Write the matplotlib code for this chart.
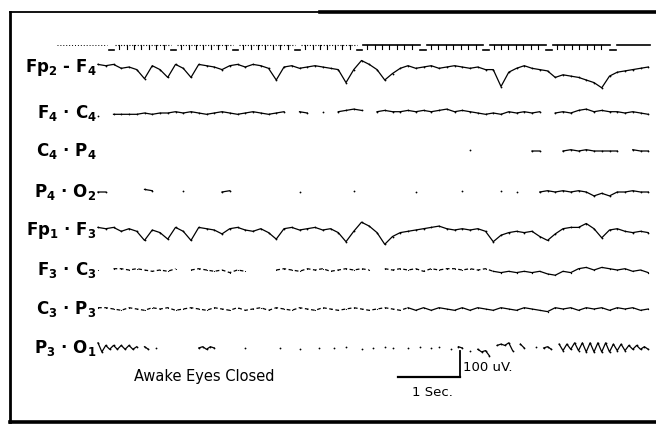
import numpy as np
import matplotlib.pyplot as plt

plt.rcParams['mathtext.default'] = 'bf'

nan = np.nan

# montage labels, top to bottom
labels = ['Fp$_2$ - F$_4$', 'F$_4$ · C$_4$', 'C$_4$ · P$_4$', 'P$_4$ · O$_2$',
          'Fp$_1$ · F$_3$', 'F$_3$ · C$_3$', 'C$_3$ · P$_3$', 'P$_3$ · O$_1$']

# traces in uV, sampled every 0.125 s (P3-O1 every 0.0625 s); nan = no ink on the scan
fp2_f4 = [10, 5, 10, -5, 0, -10, -45, 5, -10, -40,
          10, -5, -40, 10, 5, 0, -10, 5, 10, 0,
          10, 5, -5, -50, 0, 5, -5, 0, 5, 0,
          -5, -10, -60, -10, 25, 10, -10, -50, -25, -5,
          5, -5, 0, 5, -5, 0, 5, 0, -5, 0,
          -10, -10, -75, -20, -5, 5, -5, -10, -15, -40,
          -30, -35, -40, -50, -60, -80, -35, -20, -15, -10,
          -5, 0]
f4_c4 = [-10, nan, -5, -5, -5, -5, 0, -5, 0, 0,
         5, 0, 5, 0, -5, 0, 5, 0, -5, 0,
         5, 0, -5, 0, 5, nan, 5, 0, nan, 5,
         nan, 5, 10, 15, 10, nan, 5, 10, 5, 5,
         10, 5, 10, 5, 10, 15, 5, 10, 5, 0,
         -5, 0, -5, 5, 0, 5, 0, 5, nan, 0,
         5, 0, 10, 15, 5, 10, 5, 5, 0, 5,
         0, -5]
c4_p4 = ([nan] * 48 + [5] + [nan] * 7 + [0, 0, nan, nan]
         + [0, 5, 0, 5, 0, 0, 0, 0, nan, 5, 0, 0])
p4_o2 = ([0, 0] + [nan] * 4 + [10, 5] + [nan] * 3 + [5] + [nan] * 4 + [0, 5]
         + [nan] * 8 + [0] + [nan] * 6 + [5] + [nan] * 7 + [0] + [nan] * 5
         + [5] + [nan] * 4 + [5, nan, 0, nan, nan]
         + [0, 5, 0, 5, 0, 5, 0, -15, -5, -15, 0, 0, 5, 0, 0])
fp1_f3 = [10, 5, 10, -5, 5, -5, -40, 0, -10, -35,
          10, -5, -40, 10, 5, 0, -15, 5, 10, 0,
          -5, 5, -10, -35, 5, 10, 0, 5, 10, 0,
          5, -10, -45, -5, 30, 15, -10, -55, -25, -10,
          -5, 0, 5, 10, 15, 5, 0, 5, 0, 5,
          -5, -45, -20, -10, -5, -10, -5, -25, -40, -15,
          5, 10, 10, 25, 5, -30, 0, 5, -5, -10,
          -5, -10]
f3_c3 = [0, nan, 5, 5, 0, 5, 0, -5, 0, -5,
         5, nan, 0, 5, 0, -5, 0, -10, 0, -5,
         nan, nan, nan, 0, 5, 0, -5, 5, 0, 5,
         -5, 0, 5, 0, 5, 0, nan, 5, 0, 5,
         0, 5, -5, 5, 0, 5, 5, 0, 5, 0,
         5, -5, -10, -5, -10, -5, -10, -5, -15, -20,
         -5, -10, 5, 10, 0, 10, 5, 0, 5, -5,
         0, -10]
c3_p3 = [5, 5, 0, -5, 5, 0, -5, 5, 0, 5,
         -5, 0, 5, 0, -5, 5, 0, -5, 5, -5,
         0, 5, -5, 5, 0, -5, 5, 0, -5, 5,
         0, -5, 0, 5, 0, -5, 0, 5, 0, -5,
         5, -5, 5, -5, 5, 0, -5, 5, -5, 5,
         0, -5, 5, 0, -5, 5, 0, -5, -10, 5,
         0, 5, -5, 5, 0, 5, -5, 5, 0, 5,
         -5, 0]
p3_o1 = [20, -15, 10, -5, 10, -5, 10, -5, 10, -5,
         5, nan, 5, -5, nan, 0, nan, nan, nan, nan,
         nan, nan, nan, nan, nan, nan, 0, 5, -5, 5,
         0, nan, nan, nan, nan, nan, nan, nan, 0, nan,
         nan, nan, nan, nan, nan, nan, nan, 0, nan, nan,
         nan, nan, -5, nan, nan, nan, nan, 0, nan, nan,
         nan, 0, nan, nan, 5, nan, nan, nan, -5, nan,
         nan, 0, nan, nan, 5, nan, 0, nan, nan, nan,
         0, nan, nan, 5, nan, nan, 0, nan, 5, nan,
         nan, -5, nan, 5, 0, nan, -10, nan, -5, -15,
         -10, -30, nan, 10, 15, 10, 20, -10, nan, 15,
         0, nan, nan, 5, nan, 0, 5, -5, nan, 15,
         -10, 15, -5, 20, -10, 20, -15, 20, -15, 20,
         -15, 20, -15, 15, -10, 15, -10, 10, -5, 10,
         -5, 5, -5]

traces = [fp2_f4, f4_c4, c4_p4, p4_o2, fp1_f3, f3_c3, c3_p3, p3_o1]
steps = [0.125] * 7 + [0.0625]

# one-second marks of the timing line (s)
second_marks = [0.2, 1.2, 2.2, 3.2, 4.2, 5.23, 6.24, 7.26, 8.29]
tick_frac = [0.14, 0.26, 0.38, 0.5, 0.62, 0.74, 0.86]
scale_sec = 1
scale_uv = 100

# ---- layout (pixels of the 656x424 page) ----
W, H = 656, 424
PX_PER_SEC = 62
PX_PER_UV = 0.26
T0_PX = 98
rows_px = [67, 113, 151, 192, 230, 270, 309, 348]
dashed_until = [0, 0, 0, 0, 0, 51, 40, 0]

fig = plt.figure(figsize=(W / 100, H / 100), dpi=100)
ax = fig.add_axes([0, 0, 1, 1])
ax.set_xlim(-T0_PX / PX_PER_SEC, (W - T0_PX) / PX_PER_SEC)
ax.set_ylim(-H / PX_PER_UV, 0)
ax.axis('off')


def row(y_px):
    return -y_px / PX_PER_UV


for i, (vals, dt) in enumerate(zip(traces, steps)):
    v = np.array(vals, dtype=float)
    t = np.arange(len(v)) * dt
    y = row(rows_px[i]) + v
    k = dashed_until[i]
    if k:
        ax.plot(t[:k + 1], y[:k + 1], color='black', lw=0.9,
                ls=(0, (3, 2)), marker='o', ms=0.8, mew=0)
        ax.plot(t[k:], y[k:], color='black', lw=0.9, marker='o', ms=1.0, mew=0)
    else:
        ax.plot(t, y, color='black', lw=0.9, marker='o', ms=1.3, mew=0)
    ax.text(-1.5 / PX_PER_SEC, row(rows_px[i] + 5), labels[i], ha='right',
            va='baseline', fontsize=12, fontweight='bold')

# timing line
top, low = row(45), row(50)
for a, b in zip(second_marks[:-1], second_marks[1:]):
    style = dict(color='black', lw=1.2 if a > 4 else 0.8,
                 ls='-' if a > 4 else (0, (1, 1.5)))
    ax.plot([a + 0.08, b - 0.03], [top, top], **style)
    ax.plot([a - 0.03, a + 0.06], [low, low], color='black', lw=1.2)
    for f in tick_frac:
        ax.plot([a + f, a + f], [top, row(49)], color='black', lw=0.8)
ax.plot([second_marks[-1] - 0.03, second_marks[-1] + 0.06], [low, low], color='black', lw=1.2)
ax.plot([second_marks[-1] + 0.08, 8.9], [top, top], color='black', lw=1.2)
ax.plot([-0.66, second_marks[0] - 0.05], [top, top], color='black', lw=0.7, ls=(0, (1, 2)))

# calibration bar
x0 = (398 - T0_PX) / PX_PER_SEC
yb = row(377)
ax.plot([x0, x0 + scale_sec], [yb, yb], color='black', lw=1.6)
ax.plot([x0 + scale_sec, x0 + scale_sec], [yb, yb + scale_uv], color='black', lw=1.3)
ax.text(x0 + scale_sec + 0.05, yb + 0.35 * scale_uv, '100 uV.', fontsize=9.5,
        ha='left', va='center')
ax.text(x0 + 0.22, row(393), '1 Sec.', fontsize=9.5, ha='left', va='center')
ax.text((134 - T0_PX) / PX_PER_SEC, row(376), 'Awake Eyes Closed', fontsize=10.5,
        ha='left', va='center')

# page border
L, R = 10 / W, 1.0
T, B = 1 - 12 / H, 1 - 422 / H
ax.plot([L, L], [B, T], color='black', lw=2.0, transform=ax.transAxes, clip_on=False)
ax.plot([L, 320 / W], [T, T], color='black', lw=1.3, transform=ax.transAxes, clip_on=False)
ax.plot([320 / W, R], [T, T], color='black', lw=2.6, transform=ax.transAxes, clip_on=False)
ax.plot([L, R], [B, B], color='black', lw=2.6, transform=ax.transAxes, clip_on=False)

fig.savefig('out.png', dpi=100)
